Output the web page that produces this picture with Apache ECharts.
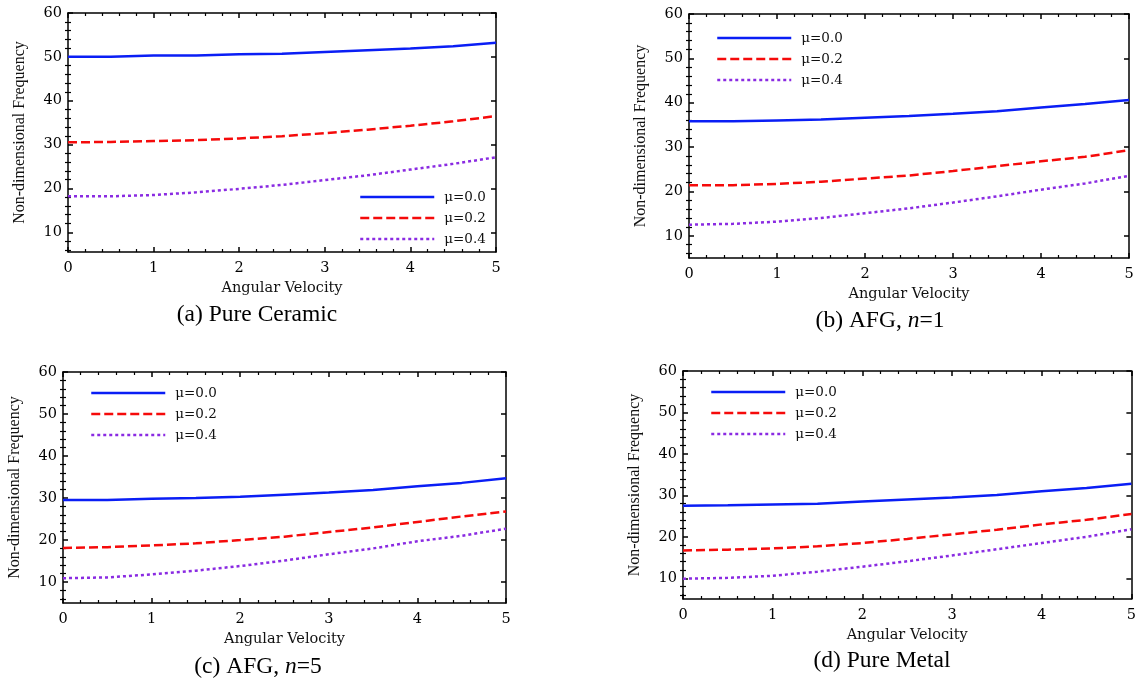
<!DOCTYPE html>
<html>
<head>
<meta charset="utf-8">
<script src="https://cdn.jsdelivr.net/npm/echarts@6/dist/echarts.min.js"></script>
<style>
html,body{margin:0;padding:0;background:#fff;}
#chart{width:1139px;height:683px;}
</style>
</head>
<body>
<div id="chart"></div>
<script>
// ---- data ----
const xValues = [0, 0.5, 1, 1.5, 2, 2.5, 3, 3.5, 4, 4.5, 5];
const seriesNames = ['μ=0.0', 'μ=0.2', 'μ=0.4'];
const xTickLabels = [0, 1, 2, 3, 4, 5];
const yTickLabels = [10, 20, 30, 40, 50, 60];
const yMinorTicks = [6, 8, 12, 14, 16, 18, 22, 24, 26, 28, 32, 34, 36, 38, 42, 44, 46, 48, 52, 54, 56, 58];

// (a) Pure Ceramic
const a_mu00 = [50.0, 50.0, 50.3, 50.3, 50.6, 50.7, 51.1, 51.5, 51.9, 52.4, 53.2];
const a_mu02 = [30.5, 30.6, 30.8, 31.0, 31.4, 31.9, 32.6, 33.4, 34.3, 35.3, 36.5];
const a_mu04 = [18.2, 18.2, 18.5, 19.1, 19.9, 20.8, 21.9, 23.0, 24.3, 25.6, 27.1];
// (b) AFG, n=1
const b_mu00 = [35.8, 35.8, 36.0, 36.2, 36.6, 37.0, 37.5, 38.1, 38.9, 39.7, 40.6];
const b_mu02 = [21.4, 21.4, 21.7, 22.2, 22.9, 23.6, 24.6, 25.7, 26.8, 27.8, 29.3];
const b_mu04 = [12.5, 12.7, 13.2, 14.0, 15.1, 16.2, 17.5, 18.9, 20.4, 21.8, 23.5];
// (c) AFG, n=5
const c_mu00 = [29.5, 29.5, 29.8, 30.0, 30.3, 30.8, 31.3, 31.9, 32.8, 33.6, 34.7];
const c_mu02 = [18.1, 18.3, 18.7, 19.2, 20.0, 20.8, 21.9, 23.0, 24.3, 25.6, 26.8];
const c_mu04 = [10.9, 11.1, 11.8, 12.7, 13.8, 15.1, 16.6, 18.0, 19.7, 21.0, 22.7];
// (d) Pure Metal
const d_mu00 = [27.5, 27.6, 27.8, 28.0, 28.5, 29.0, 29.5, 30.1, 31.0, 31.8, 32.8];
const d_mu02 = [16.7, 16.9, 17.2, 17.7, 18.5, 19.5, 20.6, 21.7, 23.0, 24.1, 25.5];
const d_mu04 = [9.9, 10.1, 10.6, 11.6, 12.8, 14.1, 15.5, 17.0, 18.5, 20.0, 21.8];

// ---- layout ----
const panels = [
  {grid:{left:68, top:13, width:428, height:239}, ymin:5.5, data:[a_mu00,a_mu02,a_mu04],
   legend:{left:359, top:190}, caption:{x:257, y:315, parts:['(a) Pure Ceramic']}},
  {grid:{left:689, top:14, width:440, height:244}, ymin:5, data:[b_mu00,b_mu02,b_mu04],
   legend:{left:716, top:31}, caption:{x:880, y:321, parts:['(b) AFG, ', 'n', '=1']}},
  {grid:{left:63, top:372, width:443, height:231}, ymin:5, data:[c_mu00,c_mu02,c_mu04],
   legend:{left:90, top:386}, caption:{x:258, y:667, parts:['(c) AFG, ', 'n', '=5']}},
  {grid:{left:683, top:371, width:450, height:228}, ymin:5, data:[d_mu00,d_mu02,d_mu04],
   legend:{left:710, top:385}, caption:{x:882, y:661, parts:['(d) Pure Metal']}}
];

const colors = ['#0a1ef5', '#f50a0a', '#8a2be2'];
const lineTypes = ['solid', [9, 4], [3, 3]];
const axisColor = '#000';
const labelFont = {fontFamily:'DejaVu Serif', fontSize:14.5, color:'#000'};

const option = {
  backgroundColor:'#fff',
  animation:false,
  grid:[], xAxis:[], yAxis:[], series:[], legend:[], graphic:[]
};

panels.forEach((p, gi) => {
  option.grid.push(Object.assign({containLabel:false}, p.grid));
  const xBase = {
    type:'value', gridIndex:gi, min:0, max:5, interval:1,
    axisLine:{show:true, onZero:false, lineStyle:{color:axisColor, width:1.5}},
    axisTick:{show:true, inside:true, length:5, lineStyle:{color:axisColor, width:1.5}},
    minorTick:{show:true, splitNumber:5, length:3, lineStyle:{color:axisColor, width:1.2}},
    splitLine:{show:false}
  };
  option.xAxis.push(Object.assign({}, xBase, {
    position:'bottom',
    name:'Angular Velocity', nameLocation:'middle', nameGap:29,
    nameTextStyle:{fontFamily:'DejaVu Serif', fontSize:14.5, color:'#111'},
    axisLabel:Object.assign({show:true, margin:9}, labelFont)
  }));
  option.xAxis.push(Object.assign({}, xBase, {position:'top', axisLabel:{show:false}}));

  const yBase = {
    type:'value', gridIndex:gi, min:p.ymin, max:60,
    splitLine:{show:false}
  };
  const ySides = ['left', 'right'];
  ySides.forEach(side => {
    option.yAxis.push(Object.assign({}, yBase, {
      position:side,
      name: side === 'left' ? 'Non-dimensional Frequency' : '',
      nameLocation:'middle', nameGap:40,
      nameTextStyle:{fontFamily:'Liberation Serif', fontSize:16, color:'#111'},
      axisLine:{show:true, onZero:false, lineStyle:{color:axisColor, width:1.5}},
      axisTick:{show:true, inside:true, length:5, customValues:yTickLabels, lineStyle:{color:axisColor, width:1.5}},
      axisLabel:Object.assign({show: side === 'left', margin:6, customValues:yTickLabels}, labelFont)
    }));
    option.yAxis.push(Object.assign({}, yBase, {
      position:side,
      axisLine:{show:false},
      axisTick:{show:true, inside:true, length:3, customValues:yMinorTicks, lineStyle:{color:axisColor, width:1.2}},
      axisLabel:{show:false}
    }));
  });

  p.data.forEach((vals, si) => {
    option.series.push({
      type:'line', name:seriesNames[si],
      xAxisIndex:gi * 2, yAxisIndex:gi * 4,
      data:xValues.map((x, i) => [x, vals[i]]),
      symbol:'none', smooth:false,
      lineStyle:{color:colors[si], width:2.5, type:lineTypes[si], cap:'butt'},
      itemStyle:{color:colors[si]},
      z:3
    });
  });

  option.legend.push({
    left:p.legend.left, top:p.legend.top, orient:'vertical', padding:0,
    data:seriesNames, itemWidth:74, itemHeight:13, itemGap:7,
    selectedMode:false,
    itemStyle:{opacity:0},
    lineStyle:{width:2.5},
    textStyle:{fontFamily:'DejaVu Serif', fontSize:13.5, color:'#111', padding:[0,0,0,5]}
  });

  const rich = {
    r:{fontFamily:'Liberation Serif', fontSize:23.5, color:'#111'},
    i:{fontFamily:'Liberation Serif', fontSize:23.5, fontStyle:'italic', color:'#111'}
  };
  const parts = p.caption.parts;
  const txt = parts.map((s, k) => (k === 1 && parts.length === 3) ? '{i|' + s + '}' : '{r|' + s + '}').join('');
  option.graphic.push({
    type:'text', x:p.caption.x, y:p.caption.y,
    style:{text:txt, rich:rich, align:'center', verticalAlign:'middle'}
  });
});

const chart = echarts.init(document.getElementById('chart'), null, {renderer:'canvas'});
chart.setOption(option);
</script>
</body>
</html>
